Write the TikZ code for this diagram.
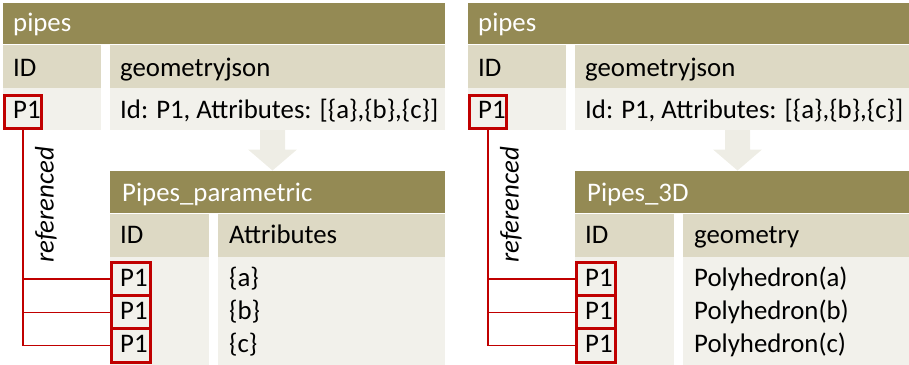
\documentclass[tikz,border=0pt]{standalone}
\usepackage{fontspec}
\setmainfont{Carlito}
\definecolor{barolive}{HTML}{948A54}
\definecolor{headtan}{HTML}{DDD9C4}
\definecolor{rowpale}{HTML}{F2F1EB}
\definecolor{arrowpale}{HTML}{EEEDE5}
\definecolor{refred}{HTML}{C00000}
\newcommand\tabfont{\fontsize{26.8}{31}\selectfont}
\tikzset{
  cell/.style={rectangle, draw=none, inner sep=0pt, anchor=north west},
  txt/.style={inner sep=0pt, anchor=base west, font=\tabfont},
  titletxt/.style={txt, text=white},
  redbox/.style={rectangle, draw=refred, line width=3pt, inner sep=0pt},
  refline/.style={draw=refred, line width=1.3pt},
}
% filled table cell: name, x1, y1, x2, y2, colour
\newcommand\mkcell[6]{\node[cell, fill=#6, minimum width={#4-#2}, minimum height={#5-#3}] (#1) at (#2,#3) {};}
% one source table, its derived table and the ID references
% #1 prefix, #2 x offset, #3 derived table name, #4 second column, #5-#7 row values
\newcommand\tablepanel[7]{%
\begin{scope}[xshift=#2pt]
  % source table
  \mkcell{#1-bar}{3}{2.5}{445}{43.5}{barolive}
  \mkcell{#1-idh}{3}{45}{101}{88}{headtan}
  \mkcell{#1-idv}{3}{88}{101}{130}{rowpale}
  \mkcell{#1-gjh}{110}{45}{445}{88}{headtan}
  \mkcell{#1-gjv}{110}{88}{445}{130}{rowpale}
  \node[titletxt] (#1-bart) at (13,31) {pipes};
  \node[txt] (#1-idht) at (13,76.5) {ID};
  \node[txt] (#1-idvt) at (13,118) {P1};
  \node[txt] (#1-gjht) at (120,76.5) {geometryjson};
  \node[txt] (#1-gjvt) at (120,118) {Id: P1, Attributes: [\{a\},\{b\},\{c\}]};
  % transformation arrow
  \fill[arrowpale] (260,130) -- (285,130) -- (285,149.5) -- (297,149.5)
     -- (272.5,170.5) -- (248,149.5) -- (260,149.5) -- cycle;
  % derived table
  \mkcell{#1-dbar}{110}{171}{445}{212.5}{barolive}
  \mkcell{#1-didh}{110}{214}{209}{257}{headtan}
  \mkcell{#1-dcolh}{218}{214}{445}{257}{headtan}
  \mkcell{#1-didv}{110}{257}{209}{366}{rowpale}
  \mkcell{#1-dcolv}{218}{257}{445}{366}{rowpale}
  \node[titletxt] (#1-dbart) at (122,201) {#3};
  \node[txt] (#1-didht) at (120,243) {ID};
  \node[txt] (#1-dcolht) at (229,243) {#4};
  \node[txt] (#1-ida) at (120,286.5) {P1};
  \node[txt] (#1-idb) at (120,319.5) {P1};
  \node[txt] (#1-idc) at (120,352.5) {P1};
  \node[txt] (#1-va) at (229,286.5) {#5};
  \node[txt] (#1-vb) at (229,319.5) {#6};
  \node[txt] (#1-vc) at (229,352.5) {#7};
  % reference markers
  \node[redbox, minimum width=37pt, minimum height=33pt] (#1-src) at (23,112) {};
  \node[redbox, minimum width=38.5pt, minimum height=33.2pt] (#1-ra) at (130.75,279.1) {};
  \node[redbox, minimum width=38.5pt, minimum height=33.2pt] (#1-rb) at (130.75,312.3) {};
  \node[redbox, minimum width=38.5pt, minimum height=33.2pt] (#1-rc) at (130.75,345.5) {};
  \draw[refline] (#1-src.south) |- (#1-ra.west);
  \draw[refline] (#1-src.south) |- (#1-rb.west);
  \draw[refline] (#1-src.south) |- (#1-rc.west);
  \node[txt, anchor=center, rotate=90, font=\tabfont\itshape] (#1-reflbl) at (46,205) {referenced};
\end{scope}}

\begin{document}
\begin{tikzpicture}[x=1pt, y=-1pt]
  \useasboundingbox (0,0) rectangle (909,364);
  \tablepanel{par}{0}{Pipes\_parametric}{Attributes}{\{a\}}{\{b\}}{\{c\}}
  \tablepanel{solid}{465}{Pipes\_3D}{geometry}{Polyhedron(a)}{Polyhedron(b)}{Polyhedron(c)}
\end{tikzpicture}
\end{document}
